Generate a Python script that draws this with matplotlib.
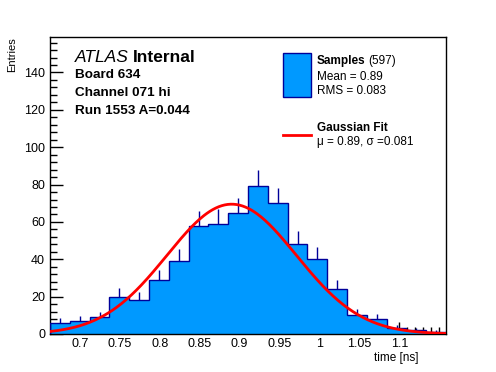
import numpy as np
import matplotlib
matplotlib.use("Agg")
import matplotlib.pyplot as plt
from matplotlib.ticker import MultipleLocator, FixedLocator
from matplotlib.patches import Rectangle

# histogram data (20 bins)
x_lo, x_hi = 0.6625, 1.1584
counts = np.array([6, 7, 9, 20, 18, 29, 39, 58, 59, 65,
                   79, 70, 48, 40, 24, 10, 8, 3, 2, 1])
x_ticks = [0.7, 0.75, 0.8, 0.85, 0.9, 0.95, 1.0, 1.05, 1.1]
n_entries = 597
mean, rms = 0.89, 0.083
fit_mu, fit_sigma, fit_const = 0.89, 0.081, 69.5

plt.rcParams["font.family"] = ["Liberation Sans", "DejaVu Sans"]

fill_col = "#0099ff"
edge_col = "#000099"

fig = plt.figure(figsize=(4.96, 3.72), dpi=100)
ax = fig.add_axes([50 / 496, 38 / 372, 396 / 496, 297 / 372])

edges = np.linspace(x_lo, x_hi, len(counts) + 1)
centers = 0.5 * (edges[:-1] + edges[1:])

ax.vlines(centers, counts, counts + np.sqrt(counts), color=edge_col, lw=1, zorder=1)
ax.stairs(counts, edges, fill=True, facecolor=fill_col, zorder=2)
ax.stairs(counts, edges, color=edge_col, lw=1, zorder=3)

xs = np.linspace(x_lo, x_hi, 400)
ax.plot(xs, fit_const * np.exp(-0.5 * ((xs - fit_mu) / fit_sigma) ** 2),
        color="red", lw=2, zorder=4)

ax.set_xlim(x_lo, x_hi)
ax.set_ylim(0, 159)
ax.xaxis.set_major_locator(FixedLocator(x_ticks))
ax.xaxis.set_minor_locator(MultipleLocator(0.01))
ax.yaxis.set_major_locator(MultipleLocator(20))
ax.yaxis.set_minor_locator(MultipleLocator(4))
ax.xaxis.set_major_formatter(plt.FuncFormatter(lambda v, p: f"{v:g}"))
ax.tick_params(which="both", direction="in", labelsize=9, width=1)
ax.tick_params(which="major", length=9)
ax.tick_params(which="minor", length=5)
ax.tick_params(axis="x", pad=3)
for s in ax.spines.values():
    s.set_linewidth(1)

fig.text(12 / 496, 1 - 37 / 372, "Entries", rotation=90, ha="center", va="top", fontsize=8)
fig.text(418 / 496, 1 - 358 / 372, "time [ns]", ha="right", va="center", fontsize=8.5)

renderer = fig.canvas.get_renderer()


def text_after(first, gap_px, second, **kw):
    # put `second` right after `first` with a small gap
    bb = first.get_window_extent(renderer)
    x = (bb.x1 + gap_px) / fig.bbox.width
    return fig.text(x, first.get_position()[1], second, **kw)


# ATLAS label block
t = fig.text(75 / 496, 1 - 57 / 372, "ATLAS", style="italic", fontsize=12.5, va="center")
text_after(t, 4, "Internal", weight="bold", fontsize=12.5, va="center")
for i, line in enumerate(["Board 634", "Channel 071 hi", "Run 1553 A=0.044"]):
    fig.text(75 / 496, 1 - (75 + 18 * i) / 372, line, weight="bold", fontsize=9.7, va="center")

# legend
fig.patches.append(Rectangle((283 / 496, 1 - 97 / 372), 28 / 496, 44 / 372,
                             transform=fig.transFigure, facecolor=fill_col,
                             edgecolor=edge_col, lw=1))
t = fig.text(317 / 496, 1 - 61 / 372, "Samples", weight="bold", fontsize=8.5, va="center")
text_after(t, 3, f"({n_entries})", fontsize=8.5, va="center")
fig.text(317 / 496, 1 - 77 / 372, f"Mean = {mean}", fontsize=8.5, va="center")
fig.text(317 / 496, 1 - 91 / 372, f"RMS = {rms}", fontsize=8.5, va="center")
fig.lines.append(plt.Line2D([283 / 496, 311 / 496], [1 - 135 / 372] * 2,
                            transform=fig.transFigure, color="red", lw=2))
fig.text(317 / 496, 1 - 128 / 372, "Gaussian Fit", weight="bold", fontsize=8.5, va="center")
fig.text(317 / 496, 1 - 142 / 372, f"\u03bc = {fit_mu}, \u03c3 ={fit_sigma}", fontsize=8.5, va="center")

fig.savefig("out.png", dpi=100)
